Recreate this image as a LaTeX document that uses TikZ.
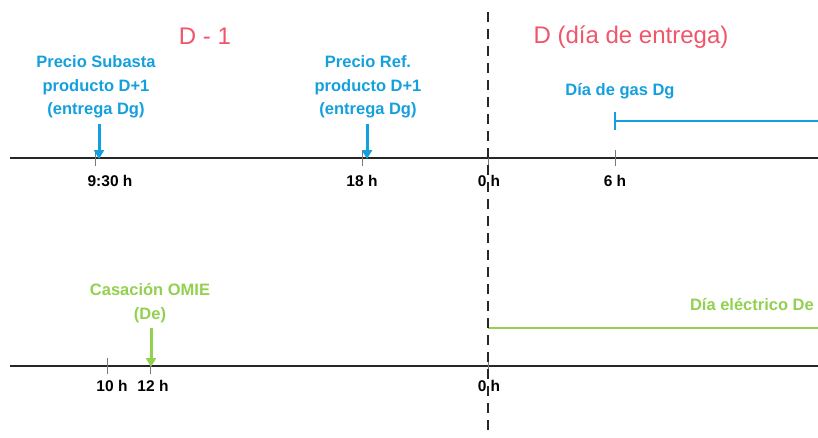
\documentclass[tikz,border=0pt]{standalone}
\usepackage{fontspec}
\setmainfont{Liberation Sans}
\usetikzlibrary{arrows.meta}
\definecolor{tblue}{RGB}{20,160,222}
\definecolor{tgreen}{RGB}{146,208,80}
\definecolor{tred}{RGB}{240,85,105}
\definecolor{tgray}{RGB}{120,120,120}
\tikzset{
  axis/.style={line width=2pt,draw=black!85},
  tick/.style={line width=1pt,draw=tgray},
  divider/.style={line width=2pt,draw=black!85,dash pattern=on 10pt off 7pt},
  evarrow/.style={line width=3pt,-{Triangle[length=9pt,width=10pt]}},
  title/.style={text=tred,font=\fontsize{24}{28}\selectfont},
  lbl/.style={font=\bfseries\fontsize{16.5}{23.5}\selectfont,align=center,inner sep=0pt},
  ticklbl/.style={font=\bfseries\fontsize{15.5}{18}\selectfont,inner sep=0pt},
}
\begin{document}
\begin{tikzpicture}[x=1pt,y=-1pt]
\useasboundingbox (0,0) rectangle (818,437);
% titles
\node[title] (t1) at (205,36) {D - 1};
\node[title] (t2) at (631,37) {D (día de entrega)};
% top axis
\coordinate (a1) at (10,158);
\coordinate (a2) at (818,158);
\draw[axis] (a1) -- (a2);
\coordinate (d1) at (488,12);
\coordinate (d2) at (488,437);
% ticks top
\foreach \n/\x in {k930/95,k18/362,k0/488,k6/615}{
  \coordinate (\n a) at (\x,150);
  \coordinate (\n b) at (\x,166);
  \draw[tick] (\n a) -- (\n b);
}
\node[ticklbl] (l930) at (110,181) {9:30 h};
\node[ticklbl] (l18) at (362,181) {18 h};
\node[ticklbl] (l0) at (489,181) {0 h};
\node[ticklbl] (l6) at (615,181) {6 h};
% blue labels
\node[lbl,text=tblue] (p1) at (96,87) {Precio Subasta\\producto D+1\\(entrega Dg)};
\node[lbl,text=tblue] (p2) at (368,87) {Precio Ref.\\producto D+1\\(entrega Dg)};
\coordinate (s1) at (99,124); \coordinate (e1) at (99,159);
\coordinate (s2) at (367,124); \coordinate (e2) at (367,159);
\draw[evarrow,tblue] (s1) -- (e1);
\draw[evarrow,tblue] (s2) -- (e2);
% gas day
\node[lbl,text=tblue] (gd) at (620,91) {Día de gas Dg};
\coordinate (g1) at (615,121); \coordinate (g2) at (818,121);
\coordinate (g3) at (615,112); \coordinate (g4) at (615,130);
\draw[line width=1.5pt,tblue] (g1) -- (g2);
\draw[line width=1.5pt,tblue] (g3) -- (g4);
% bottom axis
\coordinate (b1) at (10,366);
\coordinate (b2) at (818,366);
\draw[axis] (b1) -- (b2);
\foreach \n/\x in {m10/107,m12/150,m0/488}{
  \coordinate (\n a) at (\x,358);
  \coordinate (\n b) at (\x,374);
  \draw[tick] (\n a) -- (\n b);
}
\node[ticklbl] (l10) at (112,386) {10 h};
\node[ticklbl] (l12) at (153,386) {12 h};
\node[ticklbl] (l0b) at (489,386) {0 h};
% green
\node[lbl,text=tgreen] (om) at (150,303) {Casación OMIE\\(De)};
\coordinate (s3) at (151,328); \coordinate (e3) at (151,367);
\draw[evarrow,tgreen] (s3) -- (e3);
\node[lbl,text=tgreen,anchor=east] (de) at (814,305) {Día eléctrico De};
\coordinate (h1) at (488,328); \coordinate (h2) at (818,328);
\draw[line width=1.5pt,tgreen] (h1) -- (h2);
% divider
\draw[divider] (d1) -- (d2);
\end{tikzpicture}
\end{document}
